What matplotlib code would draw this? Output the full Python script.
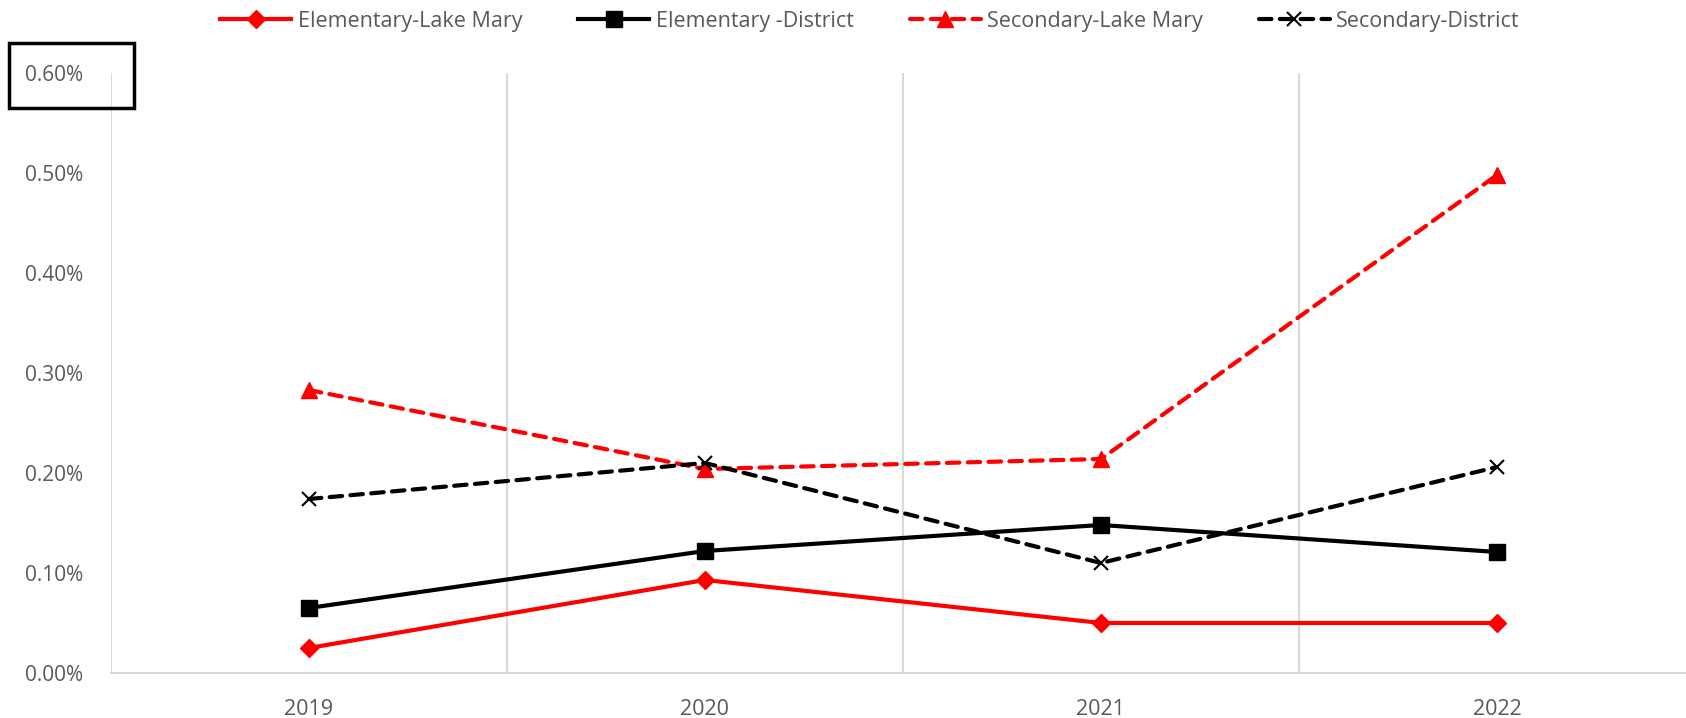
import numpy as np
import matplotlib.pyplot as plt
from matplotlib.patches import Rectangle
from matplotlib.ticker import FuncFormatter, FixedLocator

plt.rcParams['font.family'] = ['Open Sans', 'DejaVu Sans']

years = ["2019", "2020", "2021", "2022"]
elem_lake_mary = [0.00025, 0.00093, 0.00050, 0.00050]
elem_district = [0.00065, 0.00122, 0.00148, 0.00121]
sec_lake_mary = [0.00283, 0.00204, 0.00214, 0.00498]
sec_district = [0.00174, 0.00210, 0.00110, 0.00206]
y_ticks = [0.0, 0.001, 0.002, 0.003, 0.004, 0.005, 0.006]

grey_text = "#595959"
grid_col = "#D9D9D9"

fig = plt.figure(figsize=(16.86, 7.18), dpi=100)
ax = fig.add_axes([0.0658, 0.0627, 0.9395, 0.8356])

x = np.arange(len(years))
ax.plot(x, elem_lake_mary, color="#FF0000", lw=3, marker="D", ms=9,
        label="Elementary-Lake Mary")
ax.plot(x, elem_district, color="black", lw=3, marker="s", ms=11,
        label="Elementary -District")
ax.plot(x, sec_lake_mary, color="#FF0000", lw=3, ls=(0, (3, 2)), marker="^", ms=11,
        dash_capstyle="round", label="Secondary-Lake Mary")
ax.plot(x, sec_district, color="black", lw=3, ls=(0, (3, 2)), marker="x", ms=10,
        mew=1.5, dash_capstyle="round", label="Secondary-District")

ax.set_xlim(-0.5, 3.5)
ax.set_ylim(0, 0.006)
ax.set_xticks(x)
ax.set_xticklabels(years)
ax.xaxis.set_minor_locator(FixedLocator([-0.5, 0.5, 1.5, 2.5, 3.5]))
ax.grid(which="minor", axis="x", color=grid_col, lw=1.5)
ax.set_axisbelow(True)
ax.set_yticks(y_ticks)
ax.yaxis.set_major_formatter(FuncFormatter(lambda v, p: f"{v*100:.2f}%"))

ax.tick_params(axis="x", which="both", length=0, pad=19, labelsize=15.5, labelcolor=grey_text)
ax.tick_params(axis="y", length=0, pad=20, labelsize=15, labelcolor=grey_text)

for s in ["top", "right", "left"]:
    ax.spines[s].set_visible(False)
ax.spines["bottom"].set_color(grid_col)
ax.spines["bottom"].set_linewidth(1.5)

leg = fig.legend(loc="upper center", bbox_to_anchor=(0.516, 1.012), ncol=4, frameon=False,
                 fontsize=15.5, handlelength=3.3, columnspacing=2.6, handletextpad=0.3,
                 labelcolor=grey_text)

# box drawn around the top tick label
fig.patches.append(Rectangle((9 / 1686, 1 - 108 / 718), 125 / 1686, 65 / 718,
                             transform=fig.transFigure, fill=False, ec="black", lw=2.5))

fig.savefig("out.png", dpi=100)
